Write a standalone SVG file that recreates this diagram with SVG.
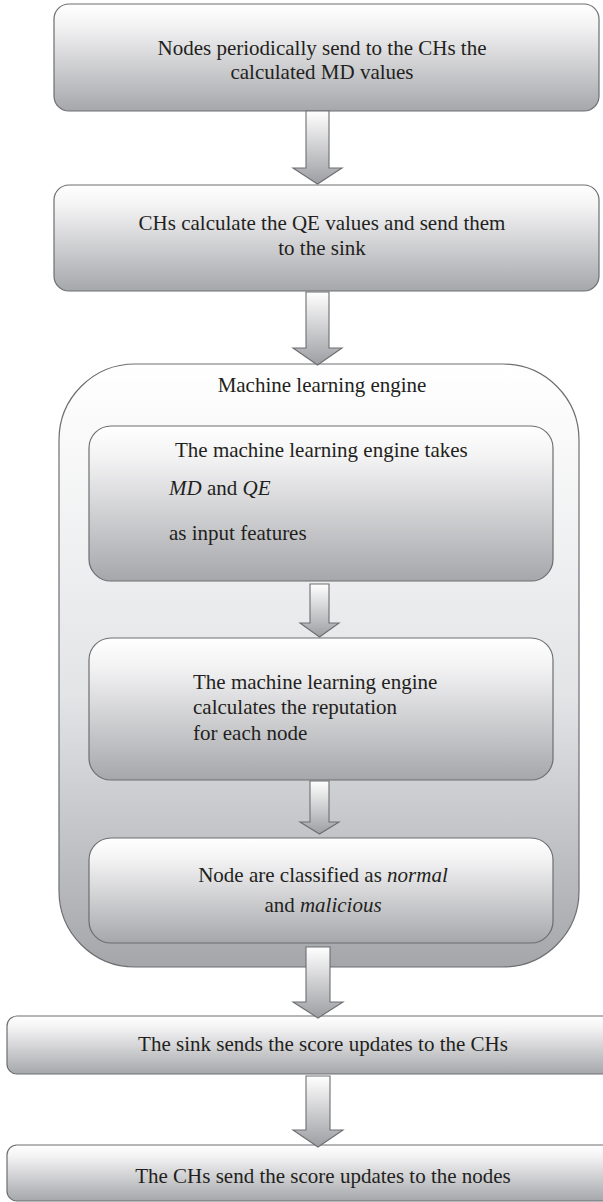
<svg xmlns="http://www.w3.org/2000/svg" width="603" height="1202" viewBox="0 0 603 1202">
<defs>
<linearGradient id="gBox" x1="0" y1="0" x2="0" y2="1">
<stop offset="0" stop-color="#ffffff"/>
<stop offset="0.2" stop-color="#f3f3f4"/>
<stop offset="1" stop-color="#a6a7ab"/>
</linearGradient>
<linearGradient id="gOuter" x1="0" y1="0" x2="0" y2="1">
<stop offset="0" stop-color="#ffffff"/>
<stop offset="0.55" stop-color="#e3e4e6"/>
<stop offset="1" stop-color="#a5a6aa"/>
</linearGradient>
<linearGradient id="gArrow" x1="0" y1="0" x2="0" y2="1">
<stop offset="0" stop-color="#ffffff"/>
<stop offset="1" stop-color="#9d9ea2"/>
</linearGradient>
<style>
.box{fill:url(#gBox);stroke:#6d6e71;stroke-width:1.2}
.outer{fill:url(#gOuter);stroke:#6d6e71;stroke-width:1.2}
.arrow{fill:url(#gArrow);stroke:#6d6e71;stroke-width:1.1;stroke-linejoin:miter}
.t{font-family:"Liberation Serif","Times New Roman",serif;font-size:21px;fill:#231f20}
.c{text-anchor:middle}
.i{font-style:italic}
</style>
</defs>

<g id="node-1">
<rect class="box" x="54" y="4" width="545" height="107" rx="15"/>
<text class="t c" x="322" y="55">Nodes periodically send to the CHs the</text>
<text class="t c" x="322" y="79">calculated MD values</text>
</g>

<g id="node-2">
<rect class="box" x="54" y="185" width="545" height="106" rx="15"/>
<text class="t c" x="322" y="230">CHs calculate the QE values and send them</text>
<text class="t c" x="322" y="255">to the sink</text>
</g>

<g id="ml-engine">
<rect class="outer" x="59" y="364" width="520" height="603" rx="76"/>
<text class="t c" x="322" y="392">Machine learning engine</text>
</g>

<g id="node-3">
<rect class="box" x="89" y="426" width="464" height="155" rx="22"/>
<text class="t" x="175" y="457">The machine learning engine takes</text>
<text class="t" x="169" y="495"><tspan class="i">MD</tspan> and <tspan class="i">QE</tspan></text>
<text class="t" x="169" y="540">as input features</text>
</g>

<g id="node-4">
<rect class="box" x="89" y="638" width="464" height="142" rx="22"/>
<text class="t" x="193" y="689">The machine learning engine</text>
<text class="t" x="193" y="714">calculates the reputation</text>
<text class="t" x="193" y="740">for each node</text>
</g>

<g id="node-5">
<rect class="box" x="89" y="838" width="464" height="105" rx="22"/>
<text class="t c" x="323" y="882">Node are classified as <tspan class="i">normal</tspan></text>
<text class="t c" x="323" y="912">and <tspan class="i">malicious</tspan></text>
</g>

<g id="node-6">
<rect class="box" x="7" y="1016" width="610" height="58" rx="10"/>
<text class="t c" x="323" y="1051">The sink sends the score updates to the CHs</text>
</g>

<g id="node-7">
<rect class="box" x="7" y="1145" width="610" height="56" rx="10"/>
<text class="t c" x="323" y="1183">The CHs send the score updates to the nodes</text>
</g>

<g id="connectors">
<path class="arrow" d="M306,111 V168 H293 L317.5,184 L342,168 H329 V111 Z"/>
<path class="arrow" d="M306,292 V348 H293 L317.5,365 L342,348 H329 V292 Z"/>
<path class="arrow" d="M310,584 V623 H300 L319.5,637 L339,623 H329 V584 Z"/>
<path class="arrow" d="M310,781 V822 H300 L319.5,834 L339,822 H329 V781 Z"/>
<path class="arrow" d="M306,947 V1002 H293 L318,1018 L343,1002 H330 V947 Z"/>
<path class="arrow" d="M306,1076 V1130 H293 L318,1147 L343,1130 H330 V1076 Z"/>
</g>
</svg>
